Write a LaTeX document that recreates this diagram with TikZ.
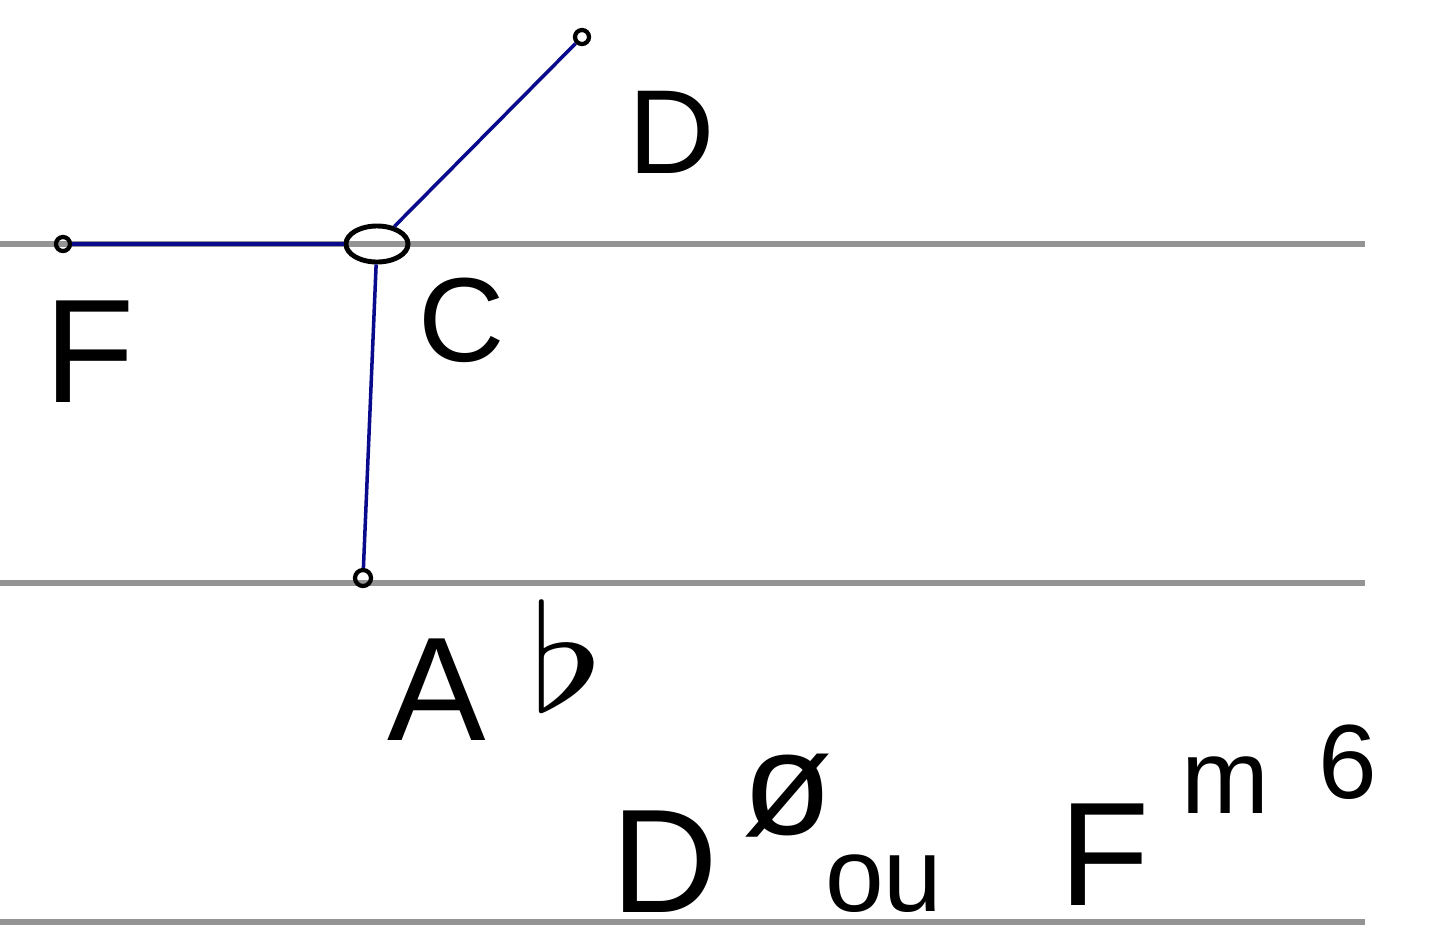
\documentclass[tikz,border=0pt]{standalone}
\usepackage{fontspec}
\setmainfont{Liberation Sans}
\usetikzlibrary{positioning,shapes.geometric}
\definecolor{chordblue}{RGB}{10,10,140}

\begin{document}
\begin{tikzpicture}[
    x=0.01cm, y=-0.01cm,
    staff/.style={line width=1.5pt, black!42},
    link/.style={line width=1pt, chordblue},
    dot/.style={draw, circle, line width=1.2pt, inner sep=0pt, minimum size=0.14cm},
    hub/.style={draw, ellipse, line width=1.4pt, inner sep=0pt, minimum width=0.62cm, minimum height=0.36cm},
    label/.style={font=\fontsize{34}{40}\selectfont, inner sep=0pt},
    biglabel/.style={font=\fontsize{42}{48}\selectfont, inner sep=0pt}
]
\useasboundingbox (0,0) rectangle (1435,945);

% staff lines
\coordinate (s1a) at (0,244); \coordinate (s1b) at (1365,244);
\coordinate (s2a) at (0,583); \coordinate (s2b) at (1365,583);
\coordinate (s3a) at (0,922); \coordinate (s3b) at (1365,922);
\draw[staff] (s1a) -- (s1b);
\draw[staff] (s2a) -- (s2b);
\draw[staff] (s3a) -- (s3b);

% points
\node[hub] (c) at (377,244) {};
\node[dot] (f) at (63,244) {};
\node[dot] (d) at (582,37) {};
\node[dot, minimum size=0.16cm] (ab) at (363,578) {};

\draw[link] (c) -- (f);
\draw[link] (c) -- (d);
\draw[link] (c) -- (ab);

% names
\node[label] (dname) at (672,132) {D};
\node[biglabel] (fname) at (90,352) {F};
\node[label] (cname) at (462,320) {C};
\node[biglabel] (abname) at (437,690) {A};
\node[inner sep=0pt] (flatsign) at (567,655) {\scalebox{5.6}[4.2]{$\flat$}};

% chord names
\node[biglabel] (dchord) at (665,862) {D};
\node[font=\fontsize{42}{48}\selectfont, inner sep=0pt] (dsup) at (788,796) {ø};
\node[font=\fontsize{30}{36}\selectfont, inner sep=0pt] (orword) at (884,884) {ou};
\node[biglabel] (fchord) at (1105,855) {F};
\node[font=\fontsize{30}{36}\selectfont, inner sep=0pt] (fsupm) at (1225,785) {m};
\node[font=\fontsize{30}{36}\selectfont, inner sep=0pt] (fsupsix) at (1348,762) {6};
\end{tikzpicture}
\end{document}
